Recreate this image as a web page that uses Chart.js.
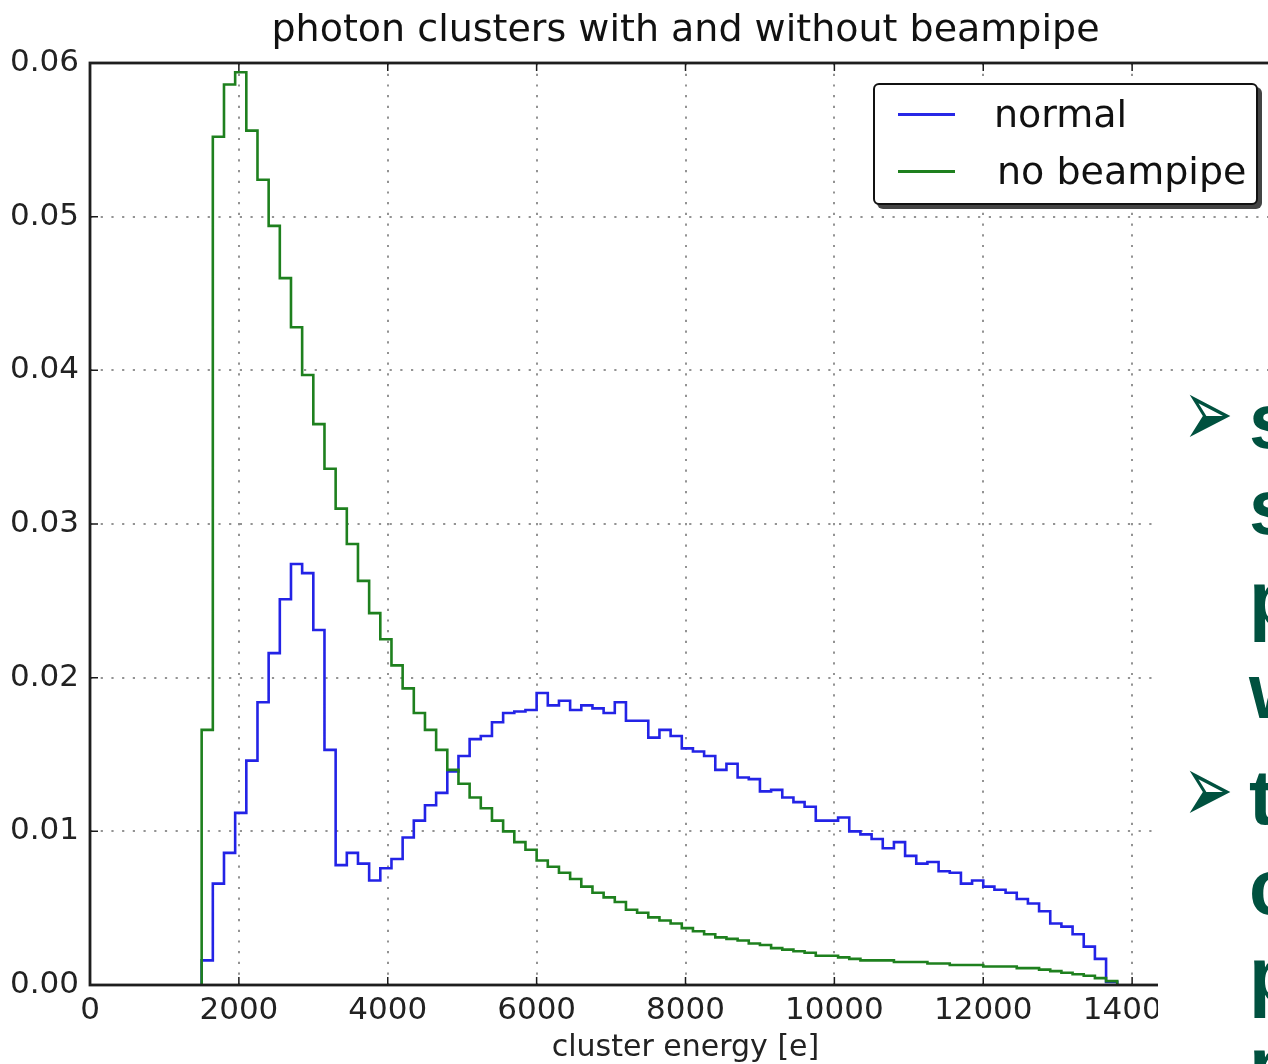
<!DOCTYPE html>
<html>
<head>
<meta charset="utf-8">
<script src="https://cdn.jsdelivr.net/npm/chart.js@4.4.0/dist/chart.umd.min.js"></script>
<style>
  html, body { margin: 0; padding: 0; background: #fff; overflow: hidden; width: 1268px; height: 1064px; }
  #wrap { position: absolute; left: 0; top: 0; width: 1340px; height: 1064px; }
  #legend { position: absolute; left: 873px; top: 83px; width: 381px; height: 118px;
            border: 2px solid #111; border-radius: 6px; background: #fff; box-shadow: 4px 4px 0 #444; }
  .lline { position: absolute; left: 898px; width: 57px; height: 3px; }
  .ltext { position: absolute; font: 38px "DejaVu Sans"; line-height: 1; color: #111; white-space: nowrap; }
  #slide { position: absolute; left: 1158px; top: 373px; width: 110px; height: 691px; background: #fff; }
  .bl { position: absolute; left: 1249px; font-family: "Liberation Sans", Arial, sans-serif; font-weight: bold; font-size: 78px; line-height: 1; color: #00513f; }
  .arr { position: absolute; left: 1183px; font-family: "DejaVu Sans"; font-size: 60px; line-height: 1; color: #00513f; transform: scaleY(1.6); transform-origin: 50% 60%; }
</style>
</head>
<body>
<div id="wrap"><canvas id="myChart" width="1340" height="1064"></canvas></div>

<div id="legend"></div>
<div class="lline" style="top:113px;background:rgb(40,40,230)"></div>
<div class="lline" style="top:170px;background:rgb(30,128,30)"></div>
<div class="ltext" style="left:994px;top:95px">normal</div>
<div class="ltext" style="left:997px;top:152px">no beampipe</div>

<div id="slide"></div>
<div class="arr" style="top:386px">➢</div>
<div class="bl" style="top:382px">s</div>
<div class="bl" style="top:468px">s</div>
<div class="bl" style="top:560px">p</div>
<div class="bl" style="top:652px">w</div>
<div class="arr" style="top:762px">➢</div>
<div class="bl" style="top:758px">t</div>
<div class="bl" style="top:848px">c</div>
<div class="bl" style="top:936px">p</div>
<div class="bl" style="top:1026px">p</div>

<script>
// histogram bins (cluster energy [e]) and bin contents
const binEdges = [1500, 1650, 1800, 1950, 2100, 2250, 2400, 2550, 2700, 2850,
  3000, 3150, 3300, 3450, 3600, 3750, 3900, 4050, 4200, 4350,
  4500, 4650, 4800, 4950, 5100, 5250, 5400, 5550, 5700, 5850,
  6000, 6150, 6300, 6450, 6600, 6750, 6900, 7050, 7200, 7350,
  7500, 7650, 7800, 7950, 8100, 8250, 8400, 8550, 8700, 8850,
  9000, 9150, 9300, 9450, 9600, 9750, 9900, 10050, 10200, 10350,
  10500, 10650, 10800, 10950, 11100, 11250, 11400, 11550, 11700, 11850,
  12000, 12150, 12300, 12450, 12600, 12750, 12900, 13050, 13200, 13350,
  13500, 13650, 13800];

const normal = [0.0016, 0.0066, 0.0086, 0.0112, 0.0146, 0.0184, 0.0216, 0.0251, 0.0274, 0.0268,
  0.0231, 0.0153, 0.0078, 0.0086, 0.0079, 0.0068, 0.0076, 0.0082, 0.0096, 0.0107,
  0.0117, 0.0125, 0.0139, 0.0149, 0.0160, 0.0162, 0.0171, 0.0177, 0.0178, 0.0179,
  0.0190, 0.0182, 0.0185, 0.0179, 0.0182, 0.0180, 0.0177, 0.0184, 0.0172, 0.0172,
  0.0161, 0.0166, 0.0162, 0.0154, 0.0152, 0.0149, 0.0140, 0.0144, 0.0135, 0.0134,
  0.0126, 0.0127, 0.0122, 0.0119, 0.0116, 0.0107, 0.0107, 0.0109, 0.0100, 0.0098,
  0.0095, 0.0089, 0.0093, 0.0084, 0.0079, 0.0080, 0.0074, 0.0073, 0.0066, 0.0068,
  0.0064, 0.0062, 0.0060, 0.0056, 0.0053, 0.0048, 0.0040, 0.0038, 0.0033, 0.0025,
  0.0017, 0.0002];

const noBeampipe = [0.0166, 0.0552, 0.0586, 0.0594, 0.0556, 0.0524, 0.0494, 0.0460, 0.0428, 0.0397,
  0.0365, 0.0336, 0.0310, 0.0287, 0.0263, 0.0242, 0.0225, 0.0208, 0.0193, 0.0177,
  0.0166, 0.0153, 0.0140, 0.0131, 0.0122, 0.0115, 0.0107, 0.0100, 0.0093, 0.0088,
  0.0081, 0.0077, 0.0073, 0.0069, 0.0064, 0.0060, 0.0057, 0.0054, 0.0049, 0.0047,
  0.0044, 0.0042, 0.0040, 0.0037, 0.0035, 0.0033, 0.0031, 0.0030, 0.0029, 0.0027,
  0.0026, 0.0024, 0.0023, 0.0022, 0.0021, 0.0019, 0.0019, 0.0018, 0.0017, 0.0016,
  0.0016, 0.0016, 0.0015, 0.0015, 0.0015, 0.0014, 0.0014, 0.0013, 0.0013, 0.0013,
  0.0012, 0.0012, 0.0012, 0.0011, 0.0011, 0.0010, 0.0009, 0.0008, 0.0007, 0.0006,
  0.00045, 0.00025];

const xTicks = [0, 2000, 4000, 6000, 8000, 10000, 12000, 14000, 16000];
const yTicks = [0, 0.01, 0.02, 0.03, 0.04, 0.05, 0.06];

// step outline: start at 0, one point per bin, back to 0 at last edge
function stepPoints(vals) {
  const pts = [{ x: binEdges[0], y: 0 }];
  vals.forEach((v, i) => pts.push({ x: binEdges[i], y: v }));
  pts.push({ x: binEdges[binEdges.length - 1], y: vals[vals.length - 1] });
  pts.push({ x: binEdges[binEdges.length - 1], y: 0 });
  return pts;
}

// matplotlib style frame with inward ticks
const framePlugin = {
  id: 'frame',
  afterDatasetsDraw(chart) {
    const { ctx, chartArea: a, scales } = chart;
    ctx.save();
    ctx.strokeStyle = '#1a1a1a';
    ctx.lineWidth = 1.5;
    ctx.beginPath();
    xTicks.forEach(v => {
      const px = scales.x.getPixelForValue(v);
      ctx.moveTo(px, a.bottom); ctx.lineTo(px, a.bottom - 8);
      ctx.moveTo(px, a.top); ctx.lineTo(px, a.top + 8);
    });
    yTicks.forEach(v => {
      const py = scales.y.getPixelForValue(v);
      ctx.moveTo(a.left, py); ctx.lineTo(a.left + 8, py);
      ctx.moveTo(a.right, py); ctx.lineTo(a.right - 8, py);
    });
    ctx.stroke();
    ctx.lineWidth = 2.8;
    ctx.strokeStyle = '#1e1e1e';
    ctx.strokeRect(a.left, a.top, a.right - a.left, a.bottom - a.top);
    ctx.restore();
  }
};

const ctx = document.getElementById('myChart').getContext('2d');

window.myChart = new Chart(ctx, {
  type: 'line',
  data: {
    datasets: [
      {
        label: 'no beampipe',
        data: stepPoints(noBeampipe),
        stepped: 'before',
        borderColor: 'rgb(30,128,30)',
        borderWidth: 2.6,
        pointRadius: 0,
        fill: false
      },
      {
        label: 'normal',
        data: stepPoints(normal),
        stepped: 'before',
        borderColor: 'rgb(35,35,230)',
        borderWidth: 2.6,
        pointRadius: 0,
        fill: false
      }
    ]
  },
  options: {
    responsive: false,
    animation: false,
    layout: { padding: { left: 0, right: 59, top: 0, bottom: 0 } },
    plugins: {
      legend: { display: false },
      tooltip: { enabled: false },
      title: {
        display: true,
        text: 'photon clusters with and without beampipe',
        fullSize: false,
        color: '#111',
        font: { family: 'DejaVu Sans', size: 38, weight: 'normal' },
        padding: { top: 8, bottom: 9.4 }
      }
    },
    scales: {
      x: {
        type: 'linear',
        min: 0,
        max: 16000,
        afterFit: s => { s.height = 79; },
        afterBuildTicks: s => { s.ticks = xTicks.map(v => ({ value: v })); },
        ticks: {
          color: '#222',
          font: { family: 'DejaVu Sans', size: 31 },
          padding: 7,
          maxRotation: 0,
          callback: v => String(v)
        },
        grid: { color: '#939393', lineWidth: 2, drawTicks: false },
        border: { display: false, dash: [2.2, 8.5] },
        title: {
          display: true,
          text: 'cluster energy [e]',
          color: '#222',
          font: { family: 'DejaVu Sans', size: 30 },
          padding: { top: 0, bottom: -2 }
        }
      },
      y: {
        min: 0,
        max: 0.06,
        afterFit: s => { s.width = 90; },
        afterBuildTicks: s => { s.ticks = yTicks.map(v => ({ value: v })); },
        ticks: {
          color: '#222',
          font: { family: 'DejaVu Sans', size: 31 },
          padding: 11,
          callback: v => v.toFixed(2)
        },
        grid: { color: '#939393', lineWidth: 2, drawTicks: false },
        border: { display: false, dash: [2.2, 8.5] }
      }
    }
  },
  plugins: [framePlugin]
});
</script>
</body>
</html>
